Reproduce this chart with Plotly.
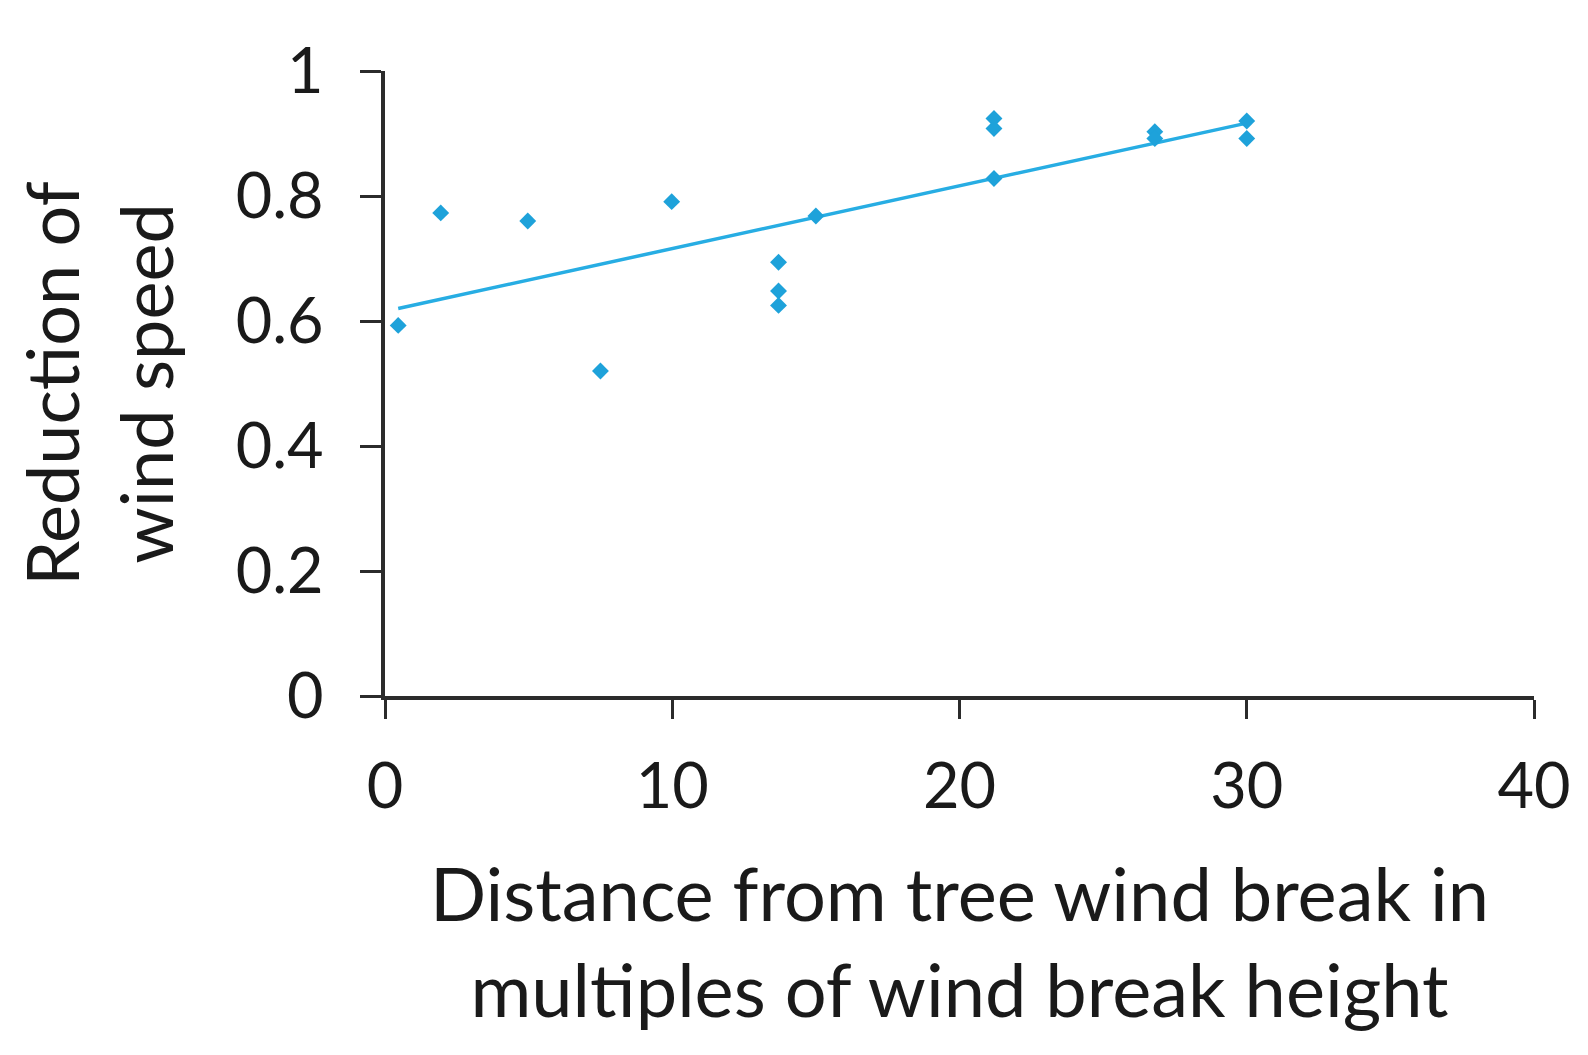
import numpy as np
import plotly.graph_objects as go

# distance in multiples of wind break height
distance = [0.46, 1.94, 4.97, 7.5, 9.98, 13.7, 13.7, 13.7, 15.0,
            21.2, 21.2, 21.2, 26.8, 26.8, 30.0, 30.0]
# reduction of wind speed
reduction = [0.593, 0.773, 0.760, 0.520, 0.791, 0.694, 0.648, 0.625, 0.768,
             0.924, 0.908, 0.828, 0.903, 0.892, 0.920, 0.892]

x_ticks = [0, 10, 20, 30, 40]
y_ticks = [0, 0.2, 0.4, 0.6, 0.8, 1]
y_ticklabels = ["0", "0.2", "0.4", "0.6", "0.8", "1"]

# linear trendline, like excel
slope, intercept = np.polyfit(distance, reduction, 1)
x_fit = np.array([min(distance), max(distance)])
y_fit = slope * x_fit + intercept

fig = go.Figure()
fig.add_trace(go.Scatter(x=x_fit, y=y_fit, mode="lines",
                         line=dict(color="#27ade3", width=3.5), hoverinfo="skip"))
fig.add_trace(go.Scatter(x=distance, y=reduction, mode="markers",
                         marker=dict(symbol="diamond", size=13, color="#1ea2da")))

font_fam = "Lato, Open Sans, sans-serif"
# page body has an 8px margin, so the figure is 8px smaller
fig.update_layout(
    width=1580, height=1047,
    showlegend=False,
    plot_bgcolor="white", paper_bgcolor="white",
    margin=dict(l=377, r=54, t=63, b=359),
    font=dict(family=font_fam, color="#1a1a1a"),
)
fig.update_xaxes(
    range=[0, 40], tickvals=x_ticks, showgrid=False, zeroline=False,
    showline=True, linecolor="#2b2b2b", linewidth=3.5,
    ticks="outside", ticklen=19, tickwidth=3, tickcolor="#2b2b2b",
    tickfont=dict(size=63), ticklabelstandoff=14,
    title=dict(text="Distance from tree wind break in<br>multiples of wind break height",
               font=dict(size=74), standoff=50),
)
fig.update_yaxes(
    range=[0, 1], tickvals=y_ticks, ticktext=y_ticklabels,
    showgrid=False, zeroline=False,
    showline=True, linecolor="#2b2b2b", linewidth=3.5,
    ticks="outside", ticklen=21, tickwidth=3, tickcolor="#2b2b2b",
    tickfont=dict(size=63), ticklabelstandoff=24,
    title=dict(text="Reduction of<br>wind speed", font=dict(size=72), standoff=72),
)

fig.write_html("out.html")
